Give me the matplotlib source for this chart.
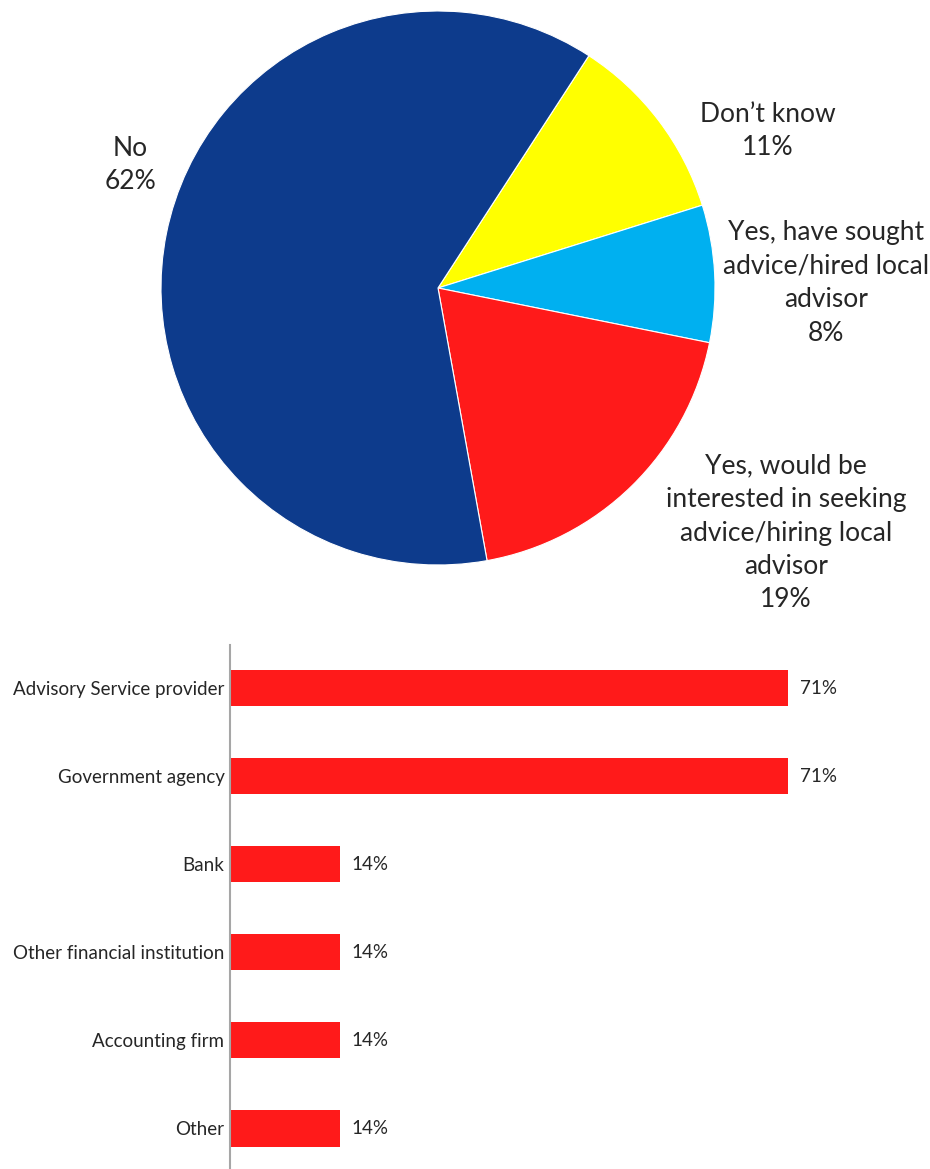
import matplotlib.pyplot as plt

plt.rcParams['font.family'] = ['Lato', 'DejaVu Sans']

# pie: would you seek a local advisor
pie_labels = ["Don\u2019t know", "Yes, have sought\nadvice/hired local\nadvisor",
              "Yes, would be\ninterested in seeking\nadvice/hiring local\nadvisor", "No"]
pie_values = [11, 8, 19, 62]
pie_colors = ["#FFFF00", "#00B0F0", "#FF1A1A", "#0D3B8C"]

# bars: type of advisor
bar_labels = ["Advisory Service provider", "Government agency", "Bank",
              "Other financial institution", "Accounting firm", "Other"]
bar_values = [71, 71, 14, 14, 14, 14]

W, H = 930, 1169
fig = plt.figure(figsize=(W / 100, H / 100), dpi=100)

# pie axes placed in pixels
cx, cy, r = 438, 288, 277
ax1 = fig.add_axes([(cx - r) / W, (H - cy - r) / H, 2 * r / W, 2 * r / H])
ax1.pie(pie_values, colors=pie_colors, startangle=57, counterclock=False,
        wedgeprops=dict(edgecolor="white", linewidth=0.8))
ax1.set_xlim(-1, 1)
ax1.set_ylim(-1, 1)
ax1.set_aspect("auto")
ax1.axis("off")

label_pos = [(768, 131), (826, 283), (786, 533), (130, 165)]
for (lx, ly), lab, v in zip(label_pos, pie_labels, pie_values):
    fig.text(lx / W, 1 - ly / H, f"{lab}\n{v}%", ha="center", va="center",
             fontsize=19, color="#262626", linespacing=1.42)

# bar axes
ax2 = fig.add_axes([230 / W, 0, 700 / W, (H - 645) / H])
y = list(range(len(bar_labels)))
ax2.barh(y, bar_values, height=0.41, color="#FF1A1A")
ax2.set_xlim(0, 700 / 7.86)
ax2.set_ylim(5.46, -0.49)
ax2.set_yticks(y)
ax2.set_yticklabels(bar_labels, fontsize=13.5, color="#262626")
ax2.tick_params(axis="y", length=0, pad=4)
ax2.set_xticks([])
for s in ["top", "right", "bottom"]:
    ax2.spines[s].set_visible(False)
ax2.spines["left"].set_color("#A6A6A6")
ax2.spines["left"].set_linewidth(1.5)
for yi, v in zip(y, bar_values):
    ax2.text(v + 1.5, yi, f"{v}%", va="center", ha="left", fontsize=13.5,
             color="#262626")

fig.savefig("out.png", dpi=100)
